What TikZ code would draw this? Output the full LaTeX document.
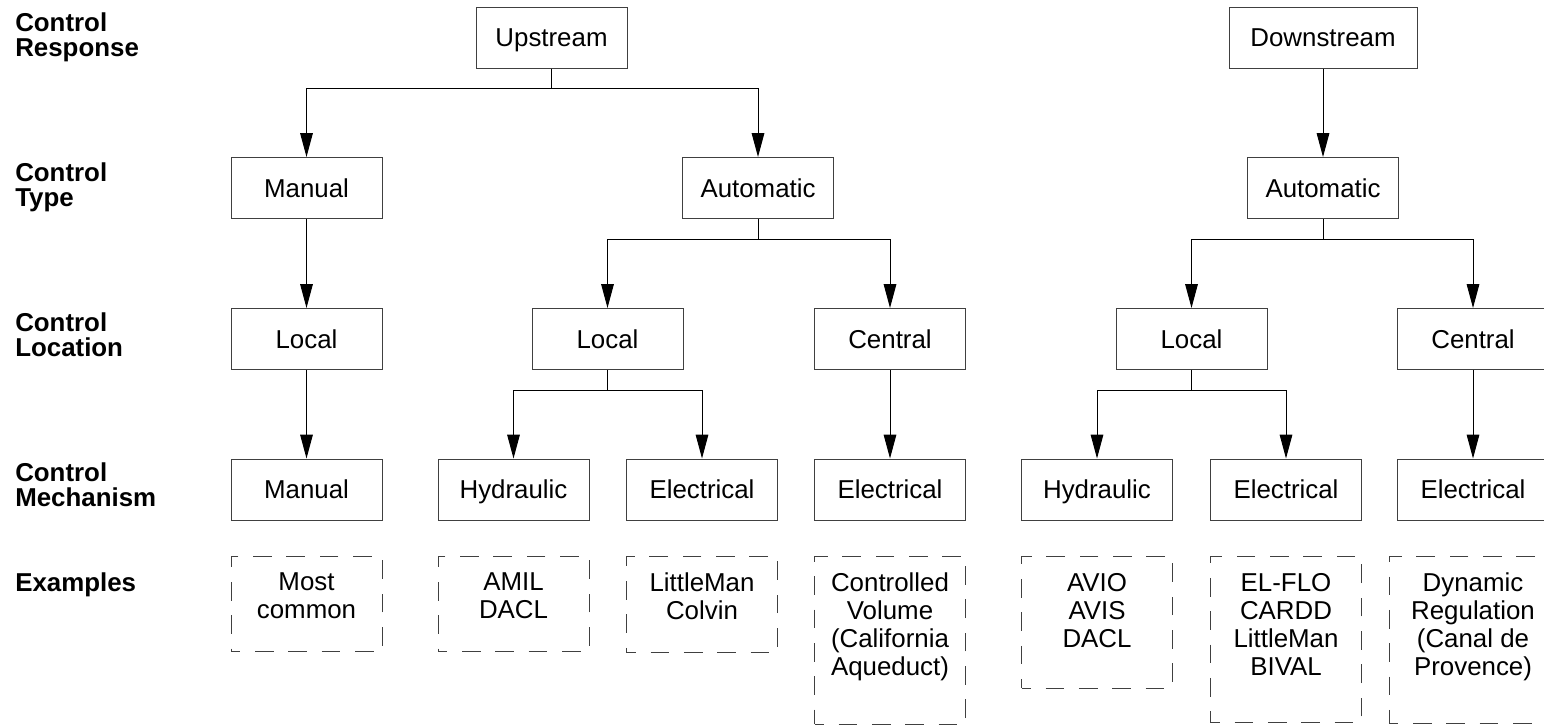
\documentclass[tikz,border=0pt]{standalone}
\usepackage{fontspec}
\setmainfont{Liberation Sans}
\usepackage{tikz}
\usetikzlibrary{arrows.meta,positioning}

\begin{document}
\begin{tikzpicture}[x=0.75pt,y=-0.75pt,
  every node/.style={font=\fontsize{19.4}{21}\selectfont},
  lvl/.style={anchor=north west,inner sep=0pt,align=left,font=\fontsize{19.4}{18.75}\selectfont\bfseries},
  opt/.style={draw=black!75,line width=0.75pt,minimum width=113.25pt,minimum height=45.75pt,inner sep=0pt,
    text height=13.9pt,text depth=0pt},
  wide/.style={opt,minimum width=141pt},
  ex/.style={draw=black!75,line width=0.75pt,dash pattern=on 14pt off 11pt,dash phase=7pt,
    anchor=north,align=center,minimum width=113.25pt,inner xsep=0pt,inner ysep=12.8pt,text depth=#1},
  arr/.style={-{Triangle[length=18pt,width=9.5pt]},line width=0.75pt}]
\useasboundingbox (0,0) rectangle (1544,725);
% row labels
\node[lvl] (lresp) at (15,12) {Control\\Response};
\node[lvl] (ltype) at (15,162.5) {Control\\Type};
\node[lvl] (lloc) at (15,312.5) {Control\\Location};
\node[lvl] (lmech) at (15,462.5) {Control\\Mechanism};
\node[lvl] (lex) at (15,572) {Examples};
% control response
\node[opt] (up) at (551.5,37.5) {Upstream};
\node[wide] (dn) at (1323,37.5) {Downstream};
% control type
\node[opt] (man) at (306.5,188) {Manual};
\node[opt] (autoU) at (758,188) {Automatic};
\node[opt] (autoD) at (1323,188) {Automatic};
% control location
\node[opt] (locM) at (306.5,339) {Local};
\node[opt] (locU) at (607.5,339) {Local};
\node[opt] (cenU) at (890,339) {Central};
\node[opt] (locD) at (1191.5,339) {Local};
\node[opt] (cenD) at (1473,339) {Central};
% control mechanism
\node[opt] (mechM) at (306.5,489.5) {Manual};
\node[opt] (hydU) at (513.5,489.5) {Hydraulic};
\node[opt] (eleU) at (702,489.5) {Electrical};
\node[opt] (eleC) at (890,489.5) {Electrical};
\node[opt] (hydD) at (1097,489.5) {Hydraulic};
\node[opt] (eleD) at (1286,489.5) {Electrical};
\node[opt] (eleCD) at (1473,489.5) {Electrical};
% examples
\node[ex=12pt] (exM) at (306.5,555.5) {Most\\common};
\node[ex=12pt] (exH) at (513.5,555.5) {AMIL\\DACL};
\node[ex=12pt] (exE) at (702,555.5) {LittleMan\\Colvin};
\node[ex=23.6pt] (exC) at (890,555.5) {Controlled\\Volume\\(California\\Aqueduct)};
\node[ex=18pt] (exHD) at (1097,555.5) {AVIO\\AVIS\\DACL};
\node[ex=22.9pt] (exED) at (1286,555.5) {EL-FLO\\CARDD\\LittleMan\\BIVAL};
\node[ex=22.9pt,minimum width=126pt] (exCD) at (1473,555.5) {Dynamic\\Regulation\\(Canal de\\Provence)};
% connectors
\draw[arr] (up.south) -- ++(0,20) -| (man.north);
\draw[arr] (up.south) -- ++(0,20) -| (autoU.north);
\draw[arr] (dn) -- (autoD);
\draw[arr] (man) -- (locM);
\draw[arr] (autoU.south) -- ++(0,20) -| (locU.north);
\draw[arr] (autoU.south) -- ++(0,20) -| (cenU.north);
\draw[arr] (autoD.south) -- ++(0,20) -| (locD.north);
\draw[arr] (autoD.south) -- ++(0,20) -| (cenD.north);
\draw[arr] (locM) -- (mechM);
\draw[arr] (locU.south) -- ++(0,20) -| (hydU.north);
\draw[arr] (locU.south) -- ++(0,20) -| (eleU.north);
\draw[arr] (cenU) -- (eleC);
\draw[arr] (locD.south) -- ++(0,20) -| (hydD.north);
\draw[arr] (locD.south) -- ++(0,20) -| (eleD.north);
\draw[arr] (cenD) -- (eleCD);
\end{tikzpicture}
\end{document}
